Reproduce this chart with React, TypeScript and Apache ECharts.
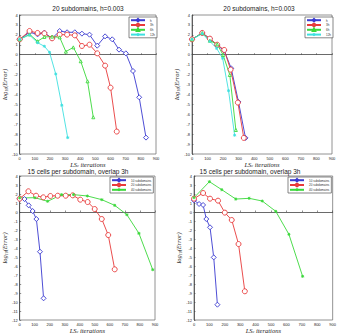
import React, { useEffect, useRef } from "react";
import * as echarts from "echarts";

// Top-left: 20 subdomains, h=0.003
const tlOverlaps = ["h", "3h", "6h", "12h"];
const tlBlueX = [0, 65, 118, 163, 214, 264, 313, 364, 411, 461, 512, 564, 611, 656, 701, 748, 789, 834];
const tlBlueY = [1.55, 2.26, 2.05, 2.22, 1.65, 2.39, 2.26, 2.26, 2.12, 2.02, 0.91, 1.85, 1.55, 0.51, 0.14, -1.64, -4.29, -8.35];
const tlRedX = [0, 65, 118, 163, 214, 264, 313, 364, 411, 461, 512, 564, 600, 641];
const tlRedY = [1.55, 2.39, 2.19, 2.15, 1.65, 2.02, 2.02, 1.95, 0.88, 1.01, 0.14, -1.1, -3.32, -7.74];
const tlGreenX = [0, 65, 118, 163, 214, 264, 305, 354, 403, 448, 486];
const tlGreenY = [1.55, 2.05, 1.35, 1.79, 1.82, 1.75, 0.31, 0.74, -0.66, -2.68, -6.3];
const tlCyanX = [0, 65, 118, 163, 197, 238, 278, 317];
const tlCyanY = [1.55, 1.99, 1.21, 0.85, 0.24, -1.94, -5.09, -8.35];

// Top-right: 20 subdomains, h=0.003
const trBlueX = [0, 66, 115, 162, 207, 252, 299, 344];
const trBlueY = [1.55, 2.19, 1.62, 0.95, 0.41, -1.37, -4.76, -8.38];
const trRedX = [0, 66, 115, 162, 207, 248, 295, 333];
const trRedY = [1.55, 2.19, 1.62, 1.01, 0.48, -1.5, -4.82, -8.38];
const trGreenX = [0, 66, 115, 162, 200, 243, 282];
const trGreenY = [1.55, 2.19, 1.41, 1.05, -0.03, -2.04, -7.58];
const trCyanX = [0, 66, 115, 158, 197, 235, 274];
const trCyanY = [1.55, 2.12, 1.35, 0.65, -0.36, -3.62, -8.11];

// Bottom row: 15 cells per subdomain, overlap 3h
const subdomainNames = ["10 subdomains", "20 subdomains", "40 subdomains"];
const blBlueX = [0, 32, 60, 86, 111, 135, 159];
const blBlueY = [1.48, 1.44, 0.74, 0.11, -0.78, -4.41, -9.59];
const blRedX = [0, 58, 109, 157, 204, 253, 306, 353, 403, 452, 499, 546, 589, 632];
const blRedY = [1.48, 2.3, 1.81, 1.63, 1.78, 1.81, 1.81, 1.85, 1.37, 1.11, 0.33, -0.78, -2.56, -6.37];
const blGreenX = [0, 101, 186, 279, 358, 450, 546, 632, 713, 793, 885];
const blGreenY = [1.56, 1.59, 1.19, 1.93, 1.93, 1.78, 1.37, 0.74, -0.3, -2.37, -6.41];

const brBlueX = [0, 33, 59, 80, 104, 128, 152];
const brBlueY = [1.3, 0.89, 0.78, -0.78, -1.7, -5.04, -10.3];
const brRedX = [0, 59, 104, 156, 200, 245, 289, 330];
const brRedY = [1.48, 2.11, 1.48, 1.26, -0.07, -0.89, -3.56, -8.81];
const brGreenX = [0, 100, 180, 271, 358, 443, 531, 616, 705];
const brGreenY = [1.59, 3.37, 2.48, 1.44, 1.52, 1.22, 0.07, -2.48, -7.15];

const topTitle = "20 subdomains, h=0.003";
const bottomTitle = "15 cells per subdomain, overlap 3h";

const BLUE = "#3a3ad0";
const RED = "#e83a3a";
const GREEN = "#3ad83a";
const CYAN = "#3ee0e0";

const STAR = "path://M5,0 L5,10 M0,5 L10,5 M1.5,1.5 L8.5,8.5 M8.5,1.5 L1.5,8.5";

const zip = (xs: number[], ys: number[]) => xs.map((x, i) => [x, ys[i]]);

const grids = [
  { left: 16, top: 15, width: 140, height: 139 },
  { left: 192, top: 15, width: 140, height: 139 },
  { left: 15, top: 176, width: 140, height: 144 },
  { left: 194, top: 176, width: 139, height: 144 },
];

function mkSeries(
  name: string,
  idx: number,
  xs: number[],
  ys: number[],
  color: string,
  symbol: string,
  size: number
) {
  return {
    type: "line",
    name,
    xAxisIndex: idx,
    yAxisIndex: idx,
    data: zip(xs, ys),
    symbol,
    symbolSize: size,
    showSymbol: true,
    lineStyle: { color, width: 0.9 },
    itemStyle: { color: "#ffffff", borderColor: color, borderWidth: 0.9 },
    color,
    emphasis: { disabled: true },
  };
}

export default function App() {
  const ref = useRef<HTMLDivElement>(null);

  useEffect(() => {
    if (!ref.current) return;
    const chart = echarts.init(ref.current, undefined, { renderer: "svg" });

    const tick = { fontSize: 4, color: "#222", margin: 2, fontFamily: "Liberation Sans" };
    const xName = "{i|LS}{s|c}{i| iterations}";
    const yName = "{i|log}{s|10}{i|(Error)}";
    const nameRich = {
      i: { fontSize: 6.5, fontStyle: "italic", fontFamily: "Liberation Serif", color: "#222" },
      s: { fontSize: 4, fontStyle: "italic", fontFamily: "Liberation Serif", color: "#222", verticalAlign: "bottom", padding: [3, 0, 0, 0] },
    };

    const yRanges = [
      [-10, 4],
      [-10, 4],
      [-12, 4],
      [-12, 4],
    ];

    const xAxis = grids.map((_, i) => ({
      type: "value",
      gridIndex: i,
      min: 0,
      max: 900,
      interval: 100,
      name: xName,
      nameLocation: "middle",
      nameGap: 6,
      nameTextStyle: { rich: nameRich },
      axisLine: { show: true, lineStyle: { color: "#444", width: 0.8 } },
      axisTick: { show: true, inside: true, length: 1.5, lineStyle: { color: "#444", width: 0.6 } },
      axisLabel: tick,
      splitLine: { show: false },
    }));

    const yAxis = grids.map((_, i) => ({
      type: "value",
      gridIndex: i,
      min: yRanges[i][0],
      max: yRanges[i][1],
      interval: 1,
      name: yName,
      nameLocation: "middle",
      nameRotate: 90,
      nameGap: 8,
      nameTextStyle: { rich: nameRich },
      axisLine: { show: true, lineStyle: { color: "#444", width: 0.8 } },
      axisTick: { show: true, inside: true, length: 1.5, lineStyle: { color: "#444", width: 0.6 } },
      axisLabel: tick,
      splitLine: { show: false },
    }));

    const legendText = { fontSize: 3, color: "#333", fontFamily: "Liberation Sans", padding: [0, 0, 0, 0] };
    const legendBase = {
      orient: "vertical",
      itemWidth: 14,
      itemHeight: 3,
      itemGap: 0.4,
      padding: [1, 2, 1, 1],
      borderColor: "#555",
      borderWidth: 0.7,
      backgroundColor: "#ffffff",
      textStyle: legendText,
      selectedMode: false,
    };

    const series = [
      mkSeries(tlOverlaps[0], 0, tlBlueX, tlBlueY, BLUE, "diamond", 5),
      mkSeries(tlOverlaps[1], 0, tlRedX, tlRedY, RED, "circle", 5),
      mkSeries(tlOverlaps[2], 0, tlGreenX, tlGreenY, GREEN, "triangle", 3),
      mkSeries(tlOverlaps[3], 0, tlCyanX, tlCyanY, CYAN, STAR, 3),
      mkSeries(tlOverlaps[0], 1, trBlueX, trBlueY, BLUE, "diamond", 5),
      mkSeries(tlOverlaps[1], 1, trRedX, trRedY, RED, "circle", 5),
      mkSeries(tlOverlaps[2], 1, trGreenX, trGreenY, GREEN, "triangle", 3),
      mkSeries(tlOverlaps[3], 1, trCyanX, trCyanY, CYAN, STAR, 3),
      mkSeries(subdomainNames[0], 2, blBlueX, blBlueY, BLUE, "diamond", 5),
      mkSeries(subdomainNames[1], 2, blRedX, blRedY, RED, "circle", 5),
      mkSeries(subdomainNames[2], 2, blGreenX, blGreenY, GREEN, STAR, 3),
      mkSeries(subdomainNames[0], 3, brBlueX, brBlueY, BLUE, "diamond", 5),
      mkSeries(subdomainNames[1], 3, brRedX, brRedY, RED, "circle", 5),
      mkSeries(subdomainNames[2], 3, brGreenX, brGreenY, GREEN, STAR, 3),
    ];

    const titleStyle = { fontSize: 6.5, fontWeight: "normal", color: "#222", fontFamily: "Liberation Sans" };

    chart.setOption({
      animation: false,
      backgroundColor: "#ffffff",
      title: [
        { text: topTitle, left: 88, top: 5, textAlign: "center", textStyle: titleStyle, padding: 0 },
        { text: topTitle, left: 259, top: 5, textAlign: "center", textStyle: titleStyle, padding: 0 },
        { text: bottomTitle, left: 78, top: 168, textAlign: "center", textStyle: titleStyle, padding: 0 },
        { text: bottomTitle, left: 250, top: 168, textAlign: "center", textStyle: titleStyle, padding: 0 },
      ],
      grid: grids.map((g) => ({ ...g, show: true, borderColor: "#777", borderWidth: 0.8, backgroundColor: "transparent" })),
      xAxis,
      yAxis,
      legend: [
        { ...legendBase, data: tlOverlaps, left: 129, top: 17 },
        { ...legendBase, data: tlOverlaps, left: 305, top: 17 },
        { ...legendBase, data: subdomainNames, left: 110, top: 177 },
        { ...legendBase, data: subdomainNames, left: 288, top: 177 },
      ],
      series,
    });

    return () => chart.dispose();
  }, []);

  return (
    <div
      ref={ref}
      style={{ position: "fixed", left: 0, top: 0, width: 339, height: 335, background: "#fff" }}
    />
  );
}
